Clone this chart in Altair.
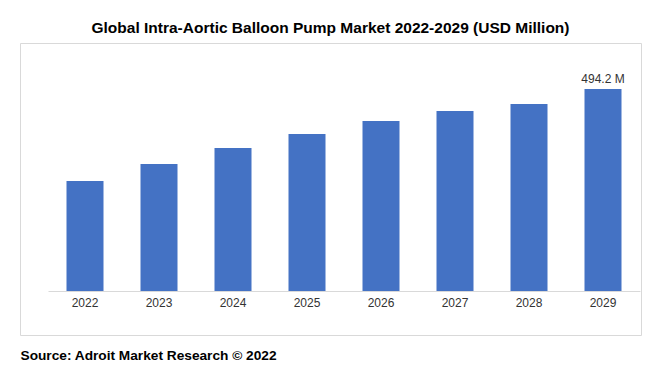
import altair as alt
import pandas as pd

years = ["2022", "2023", "2024", "2025", "2026", "2027", "2028", "2029"]
values = [269.1, 310.7, 349.9, 384.1, 415.9, 440.4, 457.5, 494.2]
labels = ["", "", "", "", "", "", "", "494.2 M"]

df = pd.DataFrame({"year": years, "value": values, "label": labels})

FONT = "Liberation Sans"

x = alt.X(
    "year:N",
    sort=years,
    scale=alt.Scale(range=[28, 620], paddingInner=0.5, paddingOuter=0.25),
    axis=alt.Axis(
        title="Source: Adroit Market Research © 2022",
        titleX=0,
        titleY=64,
        titleAlign="left",
        titleBaseline="middle",
        titleFont=FONT,
        titleFontSize=13.7,
        titleFontWeight="bold",
        titleColor="#000000",
        offset=-44,
        labelAngle=0,
        labelFont=FONT,
        labelFontSize=12,
        labelColor="#333333",
        labelPadding=6,
        ticks=False,
        domainColor="#d9d9d9",
        domainWidth=1,
        grid=False,
    ),
)
y = alt.Y(
    "value:Q",
    scale=alt.Scale(range=[248, 46], nice=False, zero=True),
    axis=None,
)

bars = alt.Chart(df).mark_bar(color="#4472C4").encode(x=x, y=y)
text = alt.Chart(df).mark_text(
    dy=-3, font=FONT, fontSize=12, color="#333333", baseline="bottom"
).encode(x=x, y=y, text="label:N")

chart = (
    alt.layer(bars, text)
    .properties(
        width=621,
        height=292,
        padding={"left": 12, "top": 12, "right": 5, "bottom": 5},
        title=alt.TitleParams(
            "Global Intra-Aortic Balloon Pump Market 2022-2029 (USD Million)",
            font=FONT,
            fontSize=15.5,
            fontWeight="bold",
            color="#000000",
            anchor="middle",
            offset=7,
        ),
    )
    .configure_view(stroke="#d9d9d9", strokeWidth=1)
)

chart.save("out.html", embed_options={"renderer": "svg", "actions": False})
